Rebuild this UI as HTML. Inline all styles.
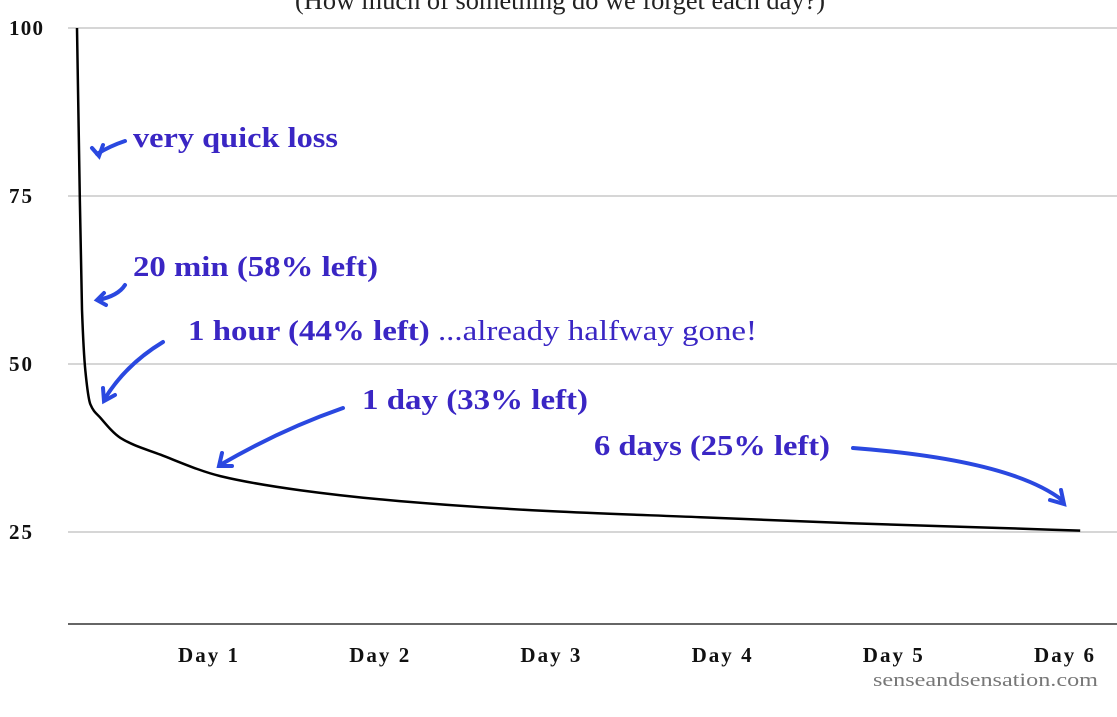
<!DOCTYPE html>
<html><head><meta charset="utf-8"><style>
html,body{margin:0;padding:0;background:#fff;}
svg{display:block;}
.ann{font-family:"Liberation Serif",serif;font-size:28px;font-weight:bold;fill:#3a26c4;}
.tick{font-family:"Liberation Serif",serif;font-size:21px;font-weight:bold;fill:#111;}
.ylab{font-family:"Liberation Serif",serif;font-size:21px;font-weight:bold;fill:#111;}
</style></head><body>
<svg id="chart" width="1117" height="717" viewBox="0 0 1117 717">
<text x="560" y="9" text-anchor="middle" font-family="Liberation Serif, serif" font-size="26" fill="#222" textLength="530" lengthAdjust="spacingAndGlyphs">(How much of something do we forget each day?)</text>
<g id="grid"></g>
<g id="axes"></g>
<path id="curve" fill="none" stroke="#000" stroke-width="2.5"></path>
<g stroke="#2a48e0" stroke-width="4" fill="none" stroke-linecap="round">
 <path d="M125 141 Q110 146 97 154"/>
 <path d="M92 148 L99 156 L103 145"/>
 <path d="M125 285 Q118 296 98 300"/>
 <path d="M104 293 L97 300 L106 305"/>
 <path d="M163 342 Q125 365 104 400"/>
 <path d="M103 388 L104 401 L115 395"/>
 <path d="M343 408 Q280 430 220 465"/>
 <path d="M222 453 L219 466 L232 466"/>
 <path d="M853 448 Q1010 460 1062 500"/>
 <path d="M1050 500 L1064 504 L1061 490"/>
</g>
<text class="ann" x="133" y="147" textLength="205" lengthAdjust="spacingAndGlyphs">very quick loss</text>
<text class="ann" x="133" y="276" textLength="245" lengthAdjust="spacingAndGlyphs">20 min (58% left)</text>
<text class="ann" x="188" y="340" textLength="569" lengthAdjust="spacingAndGlyphs">1 hour (44% left) <tspan font-weight="normal">...already halfway gone!</tspan></text>
<text class="ann" x="362" y="409" textLength="226" lengthAdjust="spacingAndGlyphs">1 day (33% left)</text>
<text class="ann" x="594" y="455" textLength="236" lengthAdjust="spacingAndGlyphs">6 days (25% left)</text>
<text x="1098" y="686" text-anchor="end" font-family="Liberation Serif, serif" font-size="19" fill="#777" textLength="225" lengthAdjust="spacingAndGlyphs">senseandsensation.com</text>
</svg>
<script>
const yTicks = [100, 75, 50, 25];
const xTickLabels = ["Day 1","Day 2","Day 3","Day 4","Day 5","Day 6"];
const curveDays = [0, 0.012, 0.03, 0.05, 0.08, 0.14, 0.26, 0.5, 0.86, 1.34, 1.93, 2.83, 3.73, 4.63, 5.52, 6];
const curveValues = [100, 82, 58, 49, 44, 42, 39, 36.5, 33.3, 31.2, 29.6, 28.1, 27.2, 26.3, 25.6, 25.2];
const NS = "http://www.w3.org/2000/svg";
function yScale(v){ return 532 - (v - 25) * 6.72; }
function xScale(d){ return 77 + d * 167.2; }
function tickX(i){ return 208 + i * 171.2; }
const grid = document.getElementById('grid');
yTicks.forEach(v=>{
  const l = document.createElementNS(NS,'line');
  l.setAttribute('x1',68); l.setAttribute('x2',1117);
  l.setAttribute('y1',yScale(v)); l.setAttribute('y2',yScale(v));
  l.setAttribute('stroke','#c8c8c8'); l.setAttribute('stroke-width','1.5');
  
  
  grid.appendChild(l);
  const t = document.createElementNS(NS,'text');
  t.setAttribute('x',9); t.setAttribute('y',yScale(v)+7);
  t.setAttribute('class','ylab'); t.textContent = v;
  t.setAttribute('textLength', v===100 ? 34 : 23);
  
  
  grid.appendChild(t);
});
const axes = document.getElementById('axes');
const ax = document.createElementNS(NS,'line');
ax.setAttribute('x1',68); ax.setAttribute('x2',1117); ax.setAttribute('y1',624); ax.setAttribute('y2',624);
ax.setAttribute('stroke','#333'); ax.setAttribute('stroke-width','1.5');


axes.appendChild(ax);
xTickLabels.forEach((s,i)=>{
  const t = document.createElementNS(NS,'text');
  t.setAttribute('x',tickX(i)); t.setAttribute('y',662);
  t.setAttribute('text-anchor','middle'); t.setAttribute('class','tick'); t.textContent = s;
  t.setAttribute('textLength', 60);
  
  
  axes.appendChild(t);
});
// monotone cubic interpolation (Fritsch-Carlson)
const px = curveDays.map(xScale), py = curveValues.map(yScale);
const n = px.length, dx = [], m = [], tg = [];
for (let i=0;i<n-1;i++){ dx[i]=px[i+1]-px[i]; m[i]=(py[i+1]-py[i])/dx[i]; }
tg[0]=m[0]; tg[n-1]=m[n-2];
for (let i=1;i<n-1;i++){
  if (m[i-1]*m[i]<=0) tg[i]=0;
  else { const w1=2*dx[i]+dx[i-1], w2=dx[i]+2*dx[i-1]; tg[i]=(w1+w2)/(w1/m[i-1]+w2/m[i]); }
}
let d = 'M' + px[0] + ' ' + py[0];
for (let i=0;i<n-1;i++){
  const h = dx[i]/3;
  d += ` C${px[i]+h} ${py[i]+tg[i]*h} ${px[i+1]-h} ${py[i+1]-tg[i+1]*h} ${px[i+1]} ${py[i+1]}`;
}
document.getElementById('curve').setAttribute('d', d);
</script>
</body></html>
